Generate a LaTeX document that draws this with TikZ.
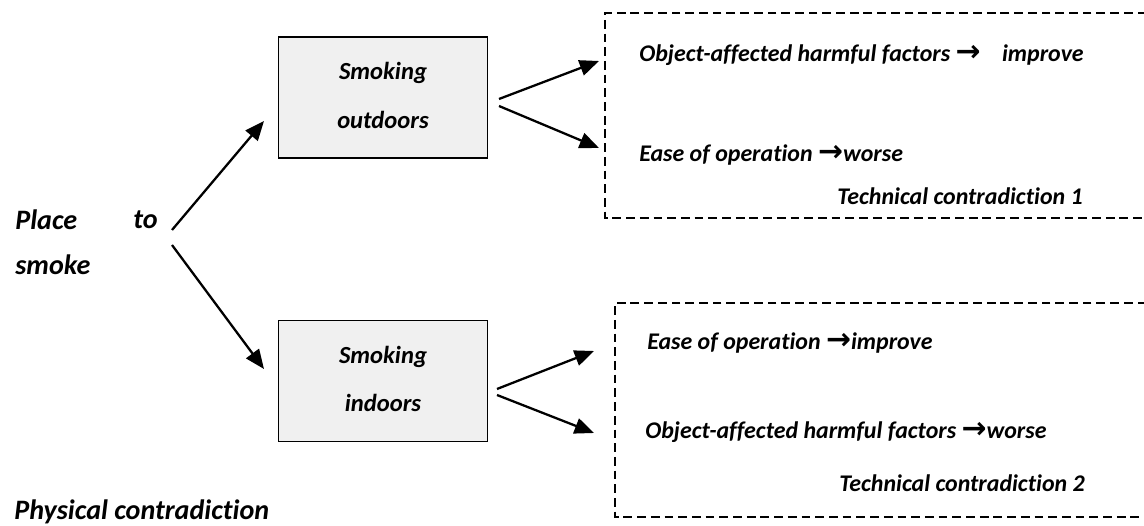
\documentclass[tikz,border=0pt]{standalone}
\usepackage{fontspec}
\setmainfont{Carlito}[Ligatures=NoCommon]
\newfontfamily\symfont{DejaVu Sans}
\usetikzlibrary{arrows.meta}

\tikzset{
	choice/.style={draw, line width=1.1pt, fill={rgb,255:red,240;green,240;blue,240}, minimum width=209*0.02cm, minimum height=121*0.02cm, inner sep=0pt},
	lbl/.style={anchor=west, inner sep=0pt, font=\fontsize{13.6}{16}\selectfont\bfseries\itshape},
	boxlbl/.style={lbl, anchor=center, font=\fontsize{14}{16}\selectfont\bfseries\itshape},
	biglbl/.style={lbl, font=\fontsize{16}{18}\selectfont\bfseries\itshape},
	arr/.style={-{Triangle[length=11pt, width=9pt]}, line width=1.3pt},
	frame/.style={line width=0.7pt, dash pattern=on 5pt off 2.8pt}
}
\newcommand{\tofont}{{\symfont\bfseries\fontsize{17}{17}\selectfont →}}

\begin{document}
\begin{tikzpicture}[x=0.02cm, y=-0.02cm]
		\useasboundingbox (0, 0) rectangle (1144, 526);

		% start
		\node[biglbl] (place) at (15, 220) {Place};
		\node[biglbl] (to) at (133, 220) {to};
		\node[biglbl] (smoke) at (15, 265) {smoke};
		\coordinate (forkup) at (172, 230);
		\coordinate (forkdown) at (172, 245);

		% the two choices
		\node[choice] (outdoor) at (383, 97.5) {};
		\node[boxlbl] at (383, 73) {Smoking};
		\node[boxlbl] at (383, 120) {outdoors};
		\node[choice] (indoor) at (383, 381) {};
		\node[boxlbl] at (383, 357) {Smoking};
		\node[boxlbl] at (383, 403) {indoors};

		\coordinate (tipup) at (264, 121);
		\coordinate (tipdown) at (264, 369);
		\draw[arr] (forkup) -- (tipup);
		\draw[arr] (forkdown) -- (tipdown);

		% technical contradiction 1
		\draw[frame] (1160, 13) -- (605, 13) -- (605, 218) -- (1160, 218);
		\node[lbl] (harm1) at (639, 55) {Object-affected harmful factors \tofont\hspace{0.9em}improve};
		\node[lbl] (ease1) at (639, 155) {Ease of operation \tofont worse};
		\node[lbl, anchor=east] (tc1) at (1083, 196) {Technical contradiction 1};
		\coordinate (outA) at (499, 99);
		\coordinate (outB) at (499, 106);
		\coordinate (outtipA) at (599, 61);
		\coordinate (outtipB) at (599, 148);
		\draw[arr] (outA) -- (outtipA);
		\draw[arr] (outB) -- (outtipB);

		% technical contradiction 2
		\draw[frame] (1160, 303) -- (615, 303) -- (615, 517) -- (1160, 517);
		\node[lbl] (ease2) at (647, 343) {Ease of operation \tofont improve};
		\node[lbl] (harm2) at (645, 432) {Object-affected harmful factors \tofont worse};
		\node[lbl, anchor=east] (tc2) at (1085, 483) {Technical contradiction 2};
		\coordinate (inA) at (497, 389);
		\coordinate (inB) at (497, 395);
		\coordinate (intipA) at (594, 351);
		\coordinate (intipB) at (594, 433);
		\draw[arr] (inA) -- (intipA);
		\draw[arr] (inB) -- (intipB);

		\node[biglbl] (phys) at (14, 512) {Physical contradiction};

	\end{tikzpicture}
\end{document}
